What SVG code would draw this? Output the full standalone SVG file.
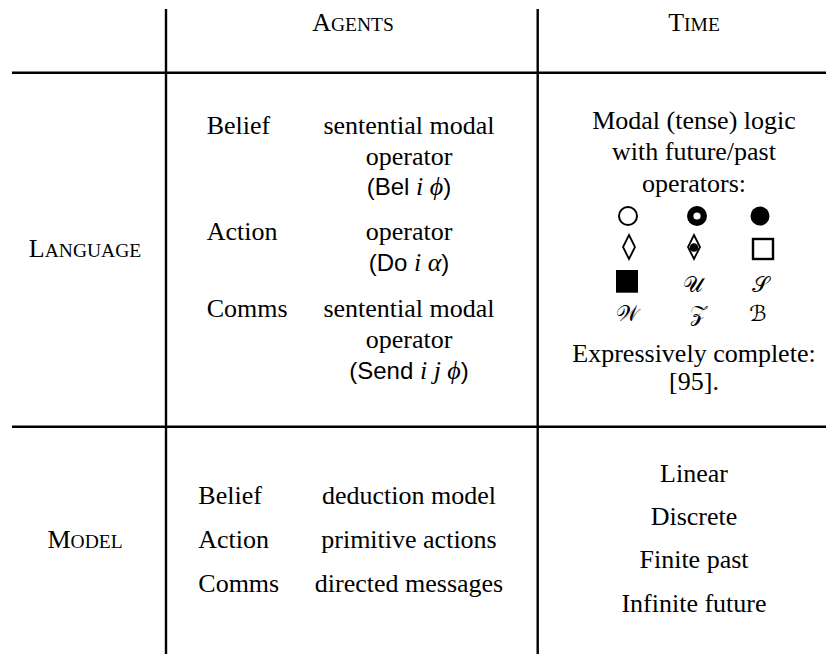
<svg xmlns="http://www.w3.org/2000/svg" width="838" height="654" viewBox="0 0 838 654">
<style>
text{font-family:"Liberation Serif","Times New Roman",serif;font-size:26px;fill:#000}
.c{text-anchor:middle}
.sc{font-size:19.5px}
.sf{font-family:"Liberation Sans",Arial,sans-serif;font-size:24px}
.it{font-style:italic}
.cal{font-family:"DejaVu Serif","DejaVu Sans","Noto Sans",serif;font-size:22px}
.rule{stroke:#000;stroke-width:2.4;fill:none}
.sym{stroke:#000;fill:none}
</style>
<rect width="838" height="654" fill="#fff"/>
<g id="grid">
<line class="rule" x1="166" y1="9" x2="166" y2="654"/>
<line class="rule" x1="537.7" y1="9" x2="537.7" y2="654"/>
<line class="rule" x1="12" y1="72.7" x2="826" y2="72.7"/>
<line class="rule" x1="12" y1="426.7" x2="826" y2="426.7"/>
</g>
<g id="header-agents"><text class="c" x="353" y="31">A<tspan class="sc">GENTS</tspan></text></g>
<g id="header-time"><text class="c" x="694" y="31">T<tspan class="sc">IME</tspan></text></g>
<g id="row-language"><text class="c" x="85" y="257">L<tspan class="sc">ANGUAGE</tspan></text></g>
<g id="row-model"><text class="c" x="85" y="548">M<tspan class="sc">ODEL</tspan></text></g>
<g id="language-agents">
<text x="206.7" y="133.5">Belief</text>
<text class="c" x="409" y="133.5">sentential modal</text>
<text class="c" x="409" y="164.5">operator</text>
<text class="c" x="409" y="195"><tspan class="sf">(Bel </tspan><tspan class="it">i ϕ</tspan><tspan class="sf">)</tspan></text>
<text x="206.7" y="240">Action</text>
<text class="c" x="409" y="240">operator</text>
<text class="c" x="409" y="270.5"><tspan class="sf">(Do </tspan><tspan class="it">i α</tspan><tspan class="sf">)</tspan></text>
<text x="206.7" y="316.7">Comms</text>
<text class="c" x="409" y="316.7">sentential modal</text>
<text class="c" x="409" y="348">operator</text>
<text class="c" x="409" y="378.5"><tspan class="sf">(Send </tspan><tspan class="it">i j ϕ</tspan><tspan class="sf">)</tspan></text>
</g>
<g id="language-time">
<text class="c" x="694" y="129">Modal (tense) logic</text>
<text class="c" x="694" y="160">with future/past</text>
<text class="c" x="694" y="191.7">operators:</text>
<circle class="sym" cx="628" cy="216" r="9" stroke-width="2"/>
<circle class="sym" cx="697" cy="216" r="6.8" stroke-width="6.4"/>
<circle cx="760" cy="216" r="9.5" fill="#000"/>
<polygon class="sym" points="629,235 635,247 629,259 623,247" stroke-width="1.8"/>
<polygon class="sym" points="694,235 700,247 694,259 688,247" stroke-width="1.8"/>
<circle cx="694" cy="247.5" r="4.3" fill="#000"/>
<rect class="sym" x="753" y="239" width="20" height="20" stroke-width="2.4"/>
<rect x="616" y="270" width="22" height="22.7" fill="#000"/>
<text class="c cal" x="693" y="292">𝒰</text>
<text class="c cal" x="760" y="292">𝒮</text>
<text class="c cal" x="627" y="321">𝒲</text>
<text class="c cal" x="698" y="321">𝒵</text>
<text class="c cal" x="758" y="321">ℬ</text>
<text class="c" x="694" y="361.7">Expressively complete:</text>
<text class="c" x="694" y="390">[95].</text>
</g>
<g id="model-agents">
<text x="198.3" y="504">Belief</text>
<text class="c" x="409" y="504">deduction model</text>
<text x="198.3" y="548.3">Action</text>
<text class="c" x="409" y="548.3">primitive actions</text>
<text x="198.3" y="591.7">Comms</text>
<text class="c" x="409" y="591.7">directed messages</text>
</g>
<g id="model-time">
<text class="c" x="694" y="481.7">Linear</text>
<text class="c" x="694" y="525">Discrete</text>
<text class="c" x="694" y="568">Finite past</text>
<text class="c" x="694" y="611.7">Infinite future</text>
</g>
</svg>
